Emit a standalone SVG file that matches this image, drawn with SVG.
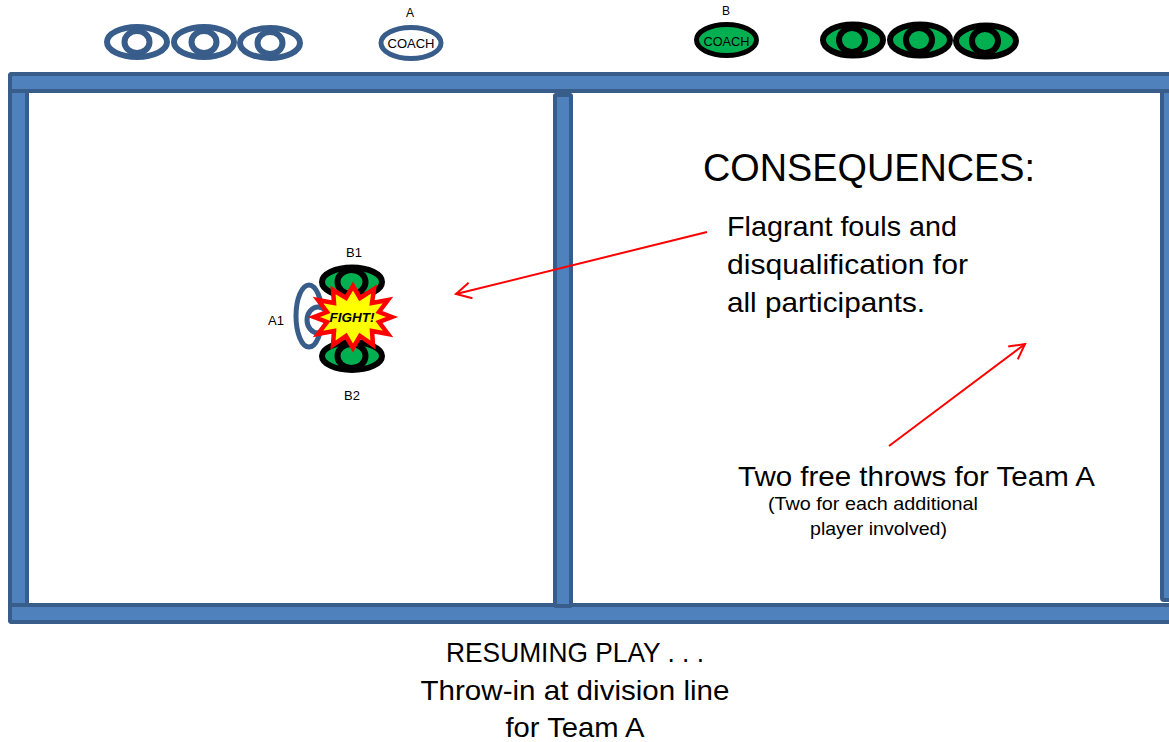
<svg xmlns="http://www.w3.org/2000/svg" width="1169" height="742" viewBox="0 0 1169 742">
<defs>
<style>
.bar{fill:#4F81BD;stroke:#385D8A;stroke-width:4}
.pa{fill:#FFFFFF;stroke:#385D8A;stroke-width:6}
.pb{fill:#00B050;stroke:#000000;stroke-width:6}
.t{font-family:"Liberation Sans",Arial,sans-serif;fill:#000}
.lbl{font-size:12px;text-anchor:middle}
.big{font-size:28px}
.arrow{stroke:#FF0000;stroke-width:2;fill:none}
</style>
<marker id="ah" markerUnits="userSpaceOnUse" markerWidth="20" markerHeight="20" viewBox="-2 -2 20 20" refX="15" refY="8" orient="auto" overflow="visible">
<path d="M0,0 L15,8 L0,16" fill="none" stroke="#FF0000" stroke-width="2"/>
</marker>
</defs>
<rect width="1169" height="742" fill="#FFFFFF"/>

<g id="court">
<rect class="bar" x="10" y="74" width="17" height="548" rx="2"/>
<rect class="bar" x="1162" y="86" width="16" height="514" rx="2"/>
<rect class="bar" x="10" y="74" width="1170" height="17" rx="2"/>
<rect class="bar" x="10" y="605" width="1170" height="17" rx="2"/>
<rect class="bar" x="555" y="95" width="16" height="511" rx="1"/>
</g>

<g id="teamA-bench">
<ellipse class="pa" cx="137" cy="42" rx="30" ry="15"/>
<ellipse class="pa" cx="137" cy="42" rx="12.5" ry="11"/>
<ellipse class="pa" cx="204" cy="42" rx="30" ry="15"/>
<ellipse class="pa" cx="204" cy="42" rx="12.5" ry="11"/>
<ellipse class="pa" cx="270" cy="43" rx="30" ry="15"/>
<ellipse class="pa" cx="270" cy="43" rx="12.5" ry="11"/>
</g>

<g id="coachA">
<text class="t lbl" x="410" y="17" font-size="12">A</text>
<ellipse cx="411" cy="43" rx="30" ry="15.5" fill="#FFFFFF" stroke="#385D8A" stroke-width="5"/>
<text class="t" x="411" y="48" font-size="13" text-anchor="middle" textLength="47" lengthAdjust="spacingAndGlyphs">COACH</text>
</g>

<g id="coachB">
<text class="t lbl" x="726" y="15" font-size="12">B</text>
<ellipse cx="726.5" cy="40" rx="30" ry="15.5" fill="#00B050" stroke="#000" stroke-width="5"/>
<text class="t" x="726.5" y="46" font-size="13" text-anchor="middle" textLength="46" lengthAdjust="spacingAndGlyphs">COACH</text>
</g>

<g id="teamB-bench">
<ellipse class="pb" cx="853" cy="40" rx="30" ry="15.5"/>
<ellipse class="pb" cx="852" cy="40" rx="13" ry="12"/>
<ellipse class="pb" cx="920" cy="40" rx="30" ry="15.5"/>
<ellipse class="pb" cx="919" cy="40" rx="13" ry="12"/>
<ellipse class="pb" cx="986" cy="41" rx="30" ry="15.5"/>
<ellipse class="pb" cx="985" cy="41" rx="13" ry="12"/>
</g>

<g id="fight">
<text class="t" x="276" y="325" font-size="13" text-anchor="middle">A1</text>
<text class="t" x="354" y="257" font-size="13" text-anchor="middle">B1</text>
<text class="t" x="352" y="400" font-size="13" text-anchor="middle">B2</text>
<ellipse cx="309" cy="316" rx="13" ry="31" fill="#FFFFFF" stroke="#385D8A" stroke-width="5"/>
<ellipse cx="318" cy="320" rx="11" ry="13" fill="#FFFFFF" stroke="#385D8A" stroke-width="5"/>
<ellipse class="pb" cx="352" cy="282" rx="30" ry="14.5" stroke-width="5"/>
<ellipse class="pb" cx="351.5" cy="282" rx="14" ry="12" stroke-width="5"/>
<ellipse class="pb" cx="352" cy="356" rx="30" ry="14" stroke-width="5"/>
<ellipse class="pb" cx="351.5" cy="356" rx="14" ry="12" stroke-width="5"/>
<polygon points="392,317 379,312 388,300 372,303 374,289 360,298 353,286 346,298 333,290 334,303 318,300 327,312 314,317 327,322 318,334 334,331 333,345 346,336 353,348 360,336 373,345 372,331 388,334 379,322" fill="#FFFF00" stroke="#FF0000" stroke-width="4.5" stroke-linejoin="miter"/>
<text class="t" x="352" y="322" font-size="13.5" font-weight="bold" font-style="italic" text-anchor="middle">FIGHT!</text>
</g>

<g id="connectors">
<line class="arrow" x1="707" y1="232" x2="456" y2="294" marker-end="url(#ah)"/>
<line class="arrow" x1="889" y1="446" x2="1025" y2="344" marker-end="url(#ah)"/>
</g>

<g id="consequences">
<text class="t" x="703" y="181" font-size="39" textLength="332" lengthAdjust="spacingAndGlyphs">CONSEQUENCES:</text>
<text class="t big" x="727" y="236" textLength="230" lengthAdjust="spacingAndGlyphs">Flagrant fouls and</text>
<text class="t big" x="727" y="274" textLength="241" lengthAdjust="spacingAndGlyphs">disqualification for</text>
<text class="t big" x="727" y="312" textLength="198" lengthAdjust="spacingAndGlyphs">all participants.</text>
</g>

<g id="free-throws">
<text class="t big" x="738" y="486" textLength="357" lengthAdjust="spacingAndGlyphs">Two free throws for Team A</text>
<text class="t" x="768" y="510" font-size="19" textLength="210" lengthAdjust="spacingAndGlyphs">(Two for each additional</text>
<text class="t" x="810" y="535" font-size="19" textLength="137" lengthAdjust="spacingAndGlyphs">player involved)</text>
</g>

<g id="resuming">
<text class="t big" x="575" y="662" text-anchor="middle" textLength="258" lengthAdjust="spacingAndGlyphs">RESUMING PLAY . . .</text>
<text class="t big" x="575" y="700" text-anchor="middle" textLength="309" lengthAdjust="spacingAndGlyphs">Throw-in at division line</text>
<text class="t big" x="575" y="737" text-anchor="middle" textLength="139" lengthAdjust="spacingAndGlyphs">for Team A</text>
</g>
</svg>
